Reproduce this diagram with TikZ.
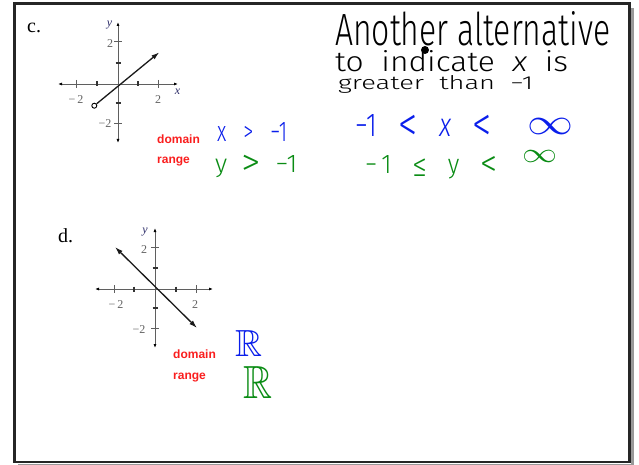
\documentclass[tikz,border=0pt]{standalone}
\usepackage{fontspec}
\usepackage{graphicx}
\usepackage{amssymb}
\usetikzlibrary{arrows.meta}
\newfontfamily\tms{Liberation Serif}
\newfontfamily\arl{Liberation Sans}
\newfontfamily\dvs{DejaVu Sans}
\IfFontExistsTF{Fira Sans Light}{%
  \newfontfamily\hand{Fira Sans Light}}{%
  \IfFontExistsTF{DejaVu Sans ExtraLight}{%
    \newfontfamily\hand{DejaVu Sans ExtraLight}}{%
    \IfFontExistsTF{Lato Light}{%
      \newfontfamily\hand{Lato Light}}{%
      \newfontfamily\hand{DejaVu Sans}}}}
% use the light hand font for a symbol if it has it, else DejaVu Sans
\newcommand\hsym[1]{{\hand\iffontchar\font`#1 #1\else\dvs #1\fi}}
\newcommand\bigsym[2]{\smash{\raisebox{-0.14em}{\scalebox{#1}{\hsym{#2}}}}}
\definecolor{hblue}{RGB}{10,30,235}
\definecolor{hgreen}{RGB}{10,140,20}
\definecolor{lred}{RGB}{250,30,30}
\definecolor{axgray}{RGB}{95,95,95}
\definecolor{labgray}{RGB}{100,100,100}
\definecolor{ylab}{RGB}{45,45,105}
\tikzset{
  axisline/.style={axgray, line width=0.9pt, {Latex[length=4pt,width=3pt,black]}-{Latex[length=4pt,width=3pt,black]}},
  tickthin/.style={axgray, line width=0.8pt},
  tickthick/.style={black!80, line width=2pt},
  fnline/.style={black!90, line width=1.3pt},
  ticklab/.style={labgray, inner sep=0pt, font=\fontsize{12}{12}\tms},
  partlab/.style={black, inner sep=0pt, anchor=base west, font=\fontsize{20}{20}\tms},
  redlab/.style={lred, inner sep=0pt, anchor=base west, font=\fontsize{12}{12}\arl\bfseries},
  handtxt/.style={inner sep=0pt, anchor=base west, font=\hand},
}
\begin{document}
\begin{tikzpicture}[x=1pt,y=-1pt]
\useasboundingbox (0,0) rectangle (639,465);
\fill[white] (0,0) rectangle (639,465);
% frame with shadow
\fill[black!40] (631,8) rectangle (634,465);
\fill[black!40] (18,463.5) rectangle (634,465);
\draw[line width=2.5pt, black!85] (14.5,3.5) rectangle (629.5,462);

% ---------- part c ----------
\node[partlab] (lc) at (27,33) {c.};
\begin{scope}[shift={(118,84)}]
  \draw[axisline] (-60,0) -- (60,0);
  \draw[axisline] (0,59) -- (0,-62);
  \draw[tickthin] (-41.3,-4) -- (-41.3,4);
  \draw[tickthin] (40,-4) -- (40,4);
  \draw[tickthin] (-4,-42.3) -- (4,-42.3);
  \draw[tickthin] (-4,39) -- (4,39);
  \draw[tickthick] (-21.3,-2.5) -- (-21.3,2.5);
  \draw[tickthick] (20,-2.5) -- (20,2.5);
  \draw[tickthick] (-2.5,-21.3) -- (2.5,-21.3);
  \draw[tickthick] (-2.5,19) -- (2.5,19);
\end{scope}
\node[ticklab, text=ylab] (cy) at (109.5,25) {\itshape y};
\node[ticklab, text=ylab] (cx) at (177.5,91.5) {\itshape x};
\node[ticklab] (cy2) at (110,44) {2};
\node[ticklab] (cym2) at (105,124) {−2};
\node[ticklab] (cxm2) at (76,100) {−\,2};
\node[ticklab] (cx2) at (158,100) {2};
\node[circle, draw=black, line width=0.9pt, fill=white, inner sep=0pt, minimum size=5pt] (oc) at (94.3,105.7) {};
\coordinate (ctip) at (159.3,52.3);
\draw[fnline, -{Latex[length=8pt,width=5pt]}] (oc) -- (ctip);

\node[redlab] (cdom) at (157,144) {domain};
\node[redlab] (cran) at (157,164) {range};

\node[handtxt, hblue] (cdx) at (217,142) {\resizebox{70pt}{19pt}{x \ \ \hsym{>} \ \ −1}};
\node[handtxt, hgreen] (cry) at (215,172) {\resizebox{82pt}{17pt}{y \ \bigsym{1.5}{>} \ −1}};

% handwritten note
\node[handtxt, black] (n1) at (335,46) {\resizebox{275pt}{34pt}{Another alternative}};
\node[handtxt, black] (n2) at (335,72) {\resizebox{233pt}{21pt}{to \ indicate \ \textit{x} \ is}};
\node[handtxt, black] (n3) at (338,90) {\resizebox{195pt}{14pt}{greater \ than \ −1}};
\fill[black] (425,50) circle (4pt);

\node[handtxt, hblue] (bint) at (355,137) {\resizebox{137pt}{22pt}{−1 \ \ \bigsym{1.5}{<} \ \ \textit{x} \ \ \bigsym{1.5}{<}}};
\node[handtxt, hblue] (binf) at (527,135) {\resizebox{46pt}{16pt}{$\infty$}};
\node[handtxt, hgreen] (gint) at (365,173) {\resizebox{132pt}{18pt}{−\,1 \ \ \bigsym{1.2}{≤} \ \ y \ \ \bigsym{1.4}{<}}};
\node[handtxt, hgreen] (ginf) at (522,162) {\resizebox{35pt}{12pt}{$\infty$}};

% ---------- part d ----------
\node[partlab] (ld) at (58,242) {d.};
\begin{scope}[shift={(155,289)}]
  \draw[axisline] (-60,0) -- (58,0);
  \draw[axisline] (0,59) -- (0,-61);
  \draw[tickthin] (-41,-4) -- (-41,4);
  \draw[tickthin] (41,-4) -- (41,4);
  \draw[tickthin] (-4,-42) -- (4,-42);
  \draw[tickthin] (-4,39) -- (4,39);
  \draw[tickthick] (-21,-2.5) -- (-21,2.5);
  \draw[tickthick] (21,-2.5) -- (21,2.5);
  \draw[tickthick] (-2.5,-21) -- (2.5,-21);
  \draw[tickthick] (-2.5,19) -- (2.5,19);
\end{scope}
\node[ticklab, text=ylab] (dy) at (145,232) {\itshape y};
\node[ticklab] (dy2) at (144,250) {2};
\node[ticklab] (dym2) at (139,330) {−2};
\node[ticklab] (dxm2) at (116,305) {−\,2};
\node[ticklab] (dx2) at (195,305) {2};
\coordinate (da) at (115,247);
\coordinate (db) at (197,328);
\draw[fnline, {Latex[length=8pt,width=5pt]}-{Latex[length=8pt,width=5pt]}] (da) -- (db);

\node[redlab] (ddom) at (173,358) {domain};
\node[redlab] (dran) at (173,379) {range};

\node[handtxt, hblue] (rb) at (235,356) {\resizebox{27pt}{26pt}{$\mathbb{R}$}};
\node[handtxt, hgreen] (rg) at (243,398) {\resizebox{29pt}{32pt}{$\mathbb{R}$}};
\end{tikzpicture}
\end{document}
